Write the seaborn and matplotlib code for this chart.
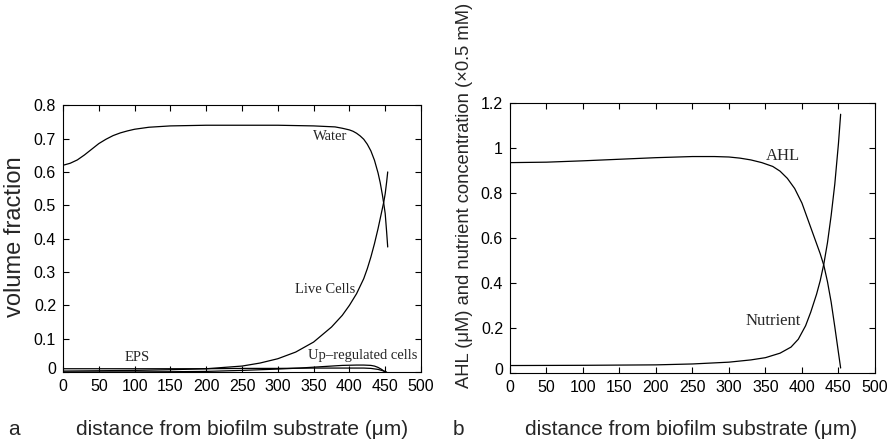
import numpy as np
import pandas as pd
import seaborn as sns
import matplotlib
matplotlib.use("Agg")
import matplotlib.pyplot as plt
from matplotlib.transforms import ScaledTranslation

# ---- Panel a data ----
water_x = [0, 10, 20, 30, 40, 50, 60, 70, 80, 90, 100, 120, 150, 200, 250, 300, 350, 380,
           390, 400, 405, 410, 415, 420, 425, 430, 435, 440, 443, 446, 448, 450, 452, 453.5]
water_y = [0.62, 0.626, 0.636, 0.651, 0.668, 0.685, 0.698, 0.709, 0.717, 0.723, 0.728, 0.734,
           0.738, 0.740, 0.740, 0.740, 0.738, 0.735, 0.731, 0.726, 0.722, 0.716, 0.708, 0.698,
           0.683, 0.663, 0.635, 0.597, 0.568, 0.532, 0.505, 0.475, 0.42, 0.375]

live_x = [0, 50, 100, 150, 200, 250, 275, 300, 325, 350, 375, 390, 400, 410, 420, 425, 430,
          435, 440, 445, 448, 450, 452, 453.5]
live_y = [0.003, 0.004, 0.005, 0.007, 0.010, 0.018, 0.027, 0.040, 0.060, 0.090, 0.135, 0.170,
          0.200, 0.235, 0.280, 0.310, 0.345, 0.385, 0.430, 0.480, 0.510, 0.535, 0.570, 0.600]

eps_x = [0, 50, 100, 150, 200, 250, 300, 350, 400, 420, 430, 440, 445, 450, 452]
eps_y = [0.010, 0.010, 0.010, 0.010, 0.010, 0.011, 0.011, 0.012, 0.012, 0.012, 0.011, 0.008,
         0.005, 0.002, 0.0]

up_x = [0, 100, 150, 200, 250, 300, 330, 360, 390, 410, 420, 430, 435, 440, 445, 450]
up_y = [0.0, 0.0005, 0.001, 0.002, 0.005, 0.009, 0.012, 0.016, 0.020, 0.021, 0.021, 0.020,
        0.018, 0.014, 0.008, 0.0]

# ---- Panel b data ----
ahl_x = [0, 50, 100, 150, 200, 250, 280, 300, 315, 330, 345, 360, 370, 380, 390, 400, 410,
         420, 425, 430, 435, 440, 445, 450, 453]
ahl_y = [0.935, 0.937, 0.943, 0.950, 0.957, 0.962, 0.962, 0.960, 0.955, 0.947, 0.935, 0.918,
         0.897, 0.865, 0.820, 0.755, 0.665, 0.575, 0.530, 0.478, 0.405, 0.315, 0.205, 0.090,
         0.022]

nut_x = [0, 100, 200, 250, 300, 330, 350, 370, 385, 395, 405, 412, 420, 425, 430, 435, 440,
         445, 450, 453]
nut_y = [0.033, 0.034, 0.036, 0.040, 0.048, 0.058, 0.068, 0.088, 0.115, 0.150, 0.210, 0.270,
         0.350, 0.410, 0.485, 0.580, 0.700, 0.840, 1.020, 1.150]

xticks = [0, 50, 100, 150, 200, 250, 300, 350, 400, 450, 500]
a_yticks = [0, 0.1, 0.2, 0.3, 0.4, 0.5, 0.6, 0.7, 0.8]
b_yticks = [0, 0.2, 0.4, 0.6, 0.8, 1.0, 1.2]
b_yticklabels = ["0", "0.2", "0.4", "0.6", "0.8", "1", "1.2"]

sns.set_theme(style="ticks")
plt.rcParams["font.family"] = ["Liberation Sans", "DejaVu Sans"]

fig = plt.figure(figsize=(8.95, 4.44), dpi=100)
axa = fig.add_axes([0.0704, 0.162, 0.400, 0.601])
axb = fig.add_axes([0.5698, 0.160, 0.4078, 0.608])

serif = ["Liberation Serif", "DejaVu Serif"]
lw = 0.9

for xs, ys in [(water_x, water_y), (live_x, live_y), (eps_x, eps_y), (up_x, up_y)]:
    sns.lineplot(x=xs, y=ys, ax=axa, color="black", linewidth=lw, sort=False, estimator=None)
for xs, ys in [(ahl_x, ahl_y), (nut_x, nut_y)]:
    sns.lineplot(x=xs, y=ys, ax=axb, color="black", linewidth=lw, sort=False, estimator=None)

axa.set_xlim(0, 500)
axa.set_ylim(0, 0.8)
axb.set_xlim(0, 500)
axb.set_ylim(0, 1.2)
axa.set_xticks(xticks)
axa.set_yticks(a_yticks)
axa.set_yticklabels(["0"] + [f"{v:.1f}" for v in a_yticks[1:]])
axb.set_xticks(xticks)
axb.set_yticks(b_yticks)
axb.set_yticklabels(b_yticklabels)

for ax in (axa, axb):
    ax.tick_params(direction="in", top=True, right=True, length=4, width=0.8,
                   labelsize=11.5, colors="black", pad=5)
    for s in ax.spines.values():
        s.set_linewidth(0.8)
        s.set_color("black")
    for lab in ax.get_yticklabels():
        if lab.get_text() == "0":
            lab.set_transform(lab.get_transform() + ScaledTranslation(0, 3 / 72, fig.dpi_scale_trans))

# annotations panel a
axa.text(373, 0.705, "Water", family=serif, fontsize=10.5, ha="center", va="center")
axa.text(366, 0.249, "Live Cells", family=serif, fontsize=10.5, ha="center", va="center")
axa.text(103, 0.043, "EPS", family=serif, fontsize=10.5, ha="center", va="center")
axa.text(418, 0.049, "Up\u2013regulated cells", family=serif, fontsize=10.5, ha="center", va="center")

# annotations panel b
axb.text(374, 0.963, "AHL", family=serif, fontsize=12, ha="center", va="center")
axb.text(361, 0.232, "Nutrient", family=serif, fontsize=12, ha="center", va="center")

# labels
fig.text(0.017, 0.466, "volume fraction", rotation=90, ha="center", va="center", fontsize=17)
fig.text(0.519, 0.559, "AHL (\u03bcM) and nutrient concentration (\u00d70.5 mM)", rotation=90,
         ha="center", va="center", fontsize=13.2)
fig.text(0.270, 0.032, "distance from biofilm substrate (\u03bcm)", ha="center", va="center",
         fontsize=15)
fig.text(0.772, 0.032, "distance from biofilm substrate (\u03bcm)", ha="center", va="center",
         fontsize=15)
fig.text(0.009, 0.032, "a", ha="left", va="center", fontsize=15)
fig.text(0.506, 0.032, "b", ha="left", va="center", fontsize=15)

fig.savefig("out.png", dpi=100)
